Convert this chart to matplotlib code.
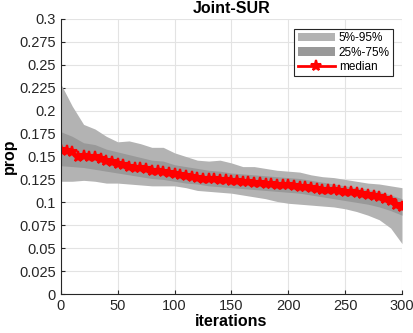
import matplotlib
matplotlib.use("Agg")
import matplotlib.pyplot as plt
import numpy as np

plt.rcParams['font.family'] = ['Liberation Sans', 'DejaVu Sans']

# band iterations (every 10)
band_x = list(range(0, 301, 10))
p95 = [0.229, 0.205, 0.185, 0.180, 0.172, 0.166, 0.167, 0.164, 0.160, 0.160,
       0.154, 0.150, 0.146, 0.145, 0.146, 0.143, 0.139, 0.139, 0.137, 0.135,
       0.134, 0.133, 0.130, 0.128, 0.127, 0.125, 0.123, 0.121, 0.120, 0.118, 0.116]
p05 = [0.123, 0.123, 0.124, 0.123, 0.121, 0.121, 0.120, 0.119, 0.118, 0.118,
       0.118, 0.116, 0.113, 0.112, 0.111, 0.110, 0.108, 0.106, 0.104, 0.101,
       0.099, 0.098, 0.097, 0.096, 0.095, 0.093, 0.090, 0.086, 0.081, 0.072, 0.055]
p75 = [0.177, 0.172, 0.165, 0.163, 0.158, 0.155, 0.152, 0.149, 0.146, 0.145,
       0.141, 0.139, 0.137, 0.135, 0.134, 0.132, 0.131, 0.130, 0.129, 0.128,
       0.127, 0.126, 0.124, 0.122, 0.120, 0.118, 0.116, 0.114, 0.112, 0.108, 0.104]
p25 = [0.140, 0.139, 0.138, 0.136, 0.134, 0.132, 0.130, 0.128, 0.126, 0.125,
       0.123, 0.121, 0.120, 0.118, 0.117, 0.116, 0.115, 0.114, 0.113, 0.112,
       0.111, 0.110, 0.108, 0.106, 0.104, 0.102, 0.100, 0.098, 0.095, 0.091, 0.086]

# median (every 5 iterations)
med_x = list(range(0, 301, 5))
median = [0.157, 0.156, 0.155, 0.150, 0.151, 0.149, 0.149, 0.147, 0.145, 0.144,
          0.142, 0.141, 0.139, 0.138, 0.137, 0.136, 0.134, 0.134, 0.133, 0.132,
          0.131, 0.130, 0.129, 0.128, 0.127, 0.126, 0.126, 0.125, 0.124, 0.124,
          0.123, 0.123, 0.122, 0.122, 0.121, 0.121, 0.120, 0.120, 0.119, 0.119,
          0.119, 0.118, 0.117, 0.117, 0.116, 0.115, 0.114, 0.114, 0.113, 0.112,
          0.111, 0.111, 0.110, 0.109, 0.108, 0.107, 0.106, 0.104, 0.101, 0.097, 0.095]

fig = plt.figure(figsize=(4.14, 3.33), dpi=100)
ax = fig.add_axes([0.147, 0.117, 0.824, 0.826])

ax.fill_between(band_x, p05, p95, color='#b3b3b3', linewidth=0, label='5%-95%')
ax.fill_between(band_x, p25, p75, color='#999999', linewidth=0, label='25%-75%')
ax.plot(med_x, median, color='red', linewidth=2, marker='*', markersize=8,
        markeredgewidth=1.5, label='median')

ax.set_xlim(0, 300)
ax.set_ylim(0, 0.3)
ax.set_xticks(np.arange(0, 301, 50))
ax.set_yticks(np.arange(0, 0.3001, 0.025))
ax.set_yticklabels(['0', '0.025', '0.05', '0.075', '0.1', '0.125', '0.15',
                    '0.175', '0.2', '0.225', '0.25', '0.275', '0.3'])
ax.grid(True, color='#e3e3e3', linewidth=0.8)
ax.set_axisbelow(True)
for s in ['top', 'right']:
    ax.spines[s].set_visible(False)
for s in ['left', 'bottom']:
    ax.spines[s].set_color('#262626')
    ax.spines[s].set_linewidth(0.8)
ax.tick_params(direction='in', length=3, labelsize=10.5, colors='#262626')

ax.set_title('Joint-SUR', fontsize=11.5, fontweight='bold', pad=4)
ax.set_xlabel('iterations', fontsize=11.5, fontweight='bold', labelpad=1)
ax.set_ylabel('prop', fontsize=11.5, fontweight='bold', labelpad=2)

leg = ax.legend(loc='upper right', bbox_to_anchor=(0.975, 0.965), fontsize=8.5,
                fancybox=False, framealpha=1, edgecolor='#262626',
                handlelength=3.2, handletextpad=0.3, borderpad=0.3,
                labelspacing=0.2, borderaxespad=0)
leg.get_frame().set_linewidth(0.8)

fig.savefig('out.png', dpi=100)
